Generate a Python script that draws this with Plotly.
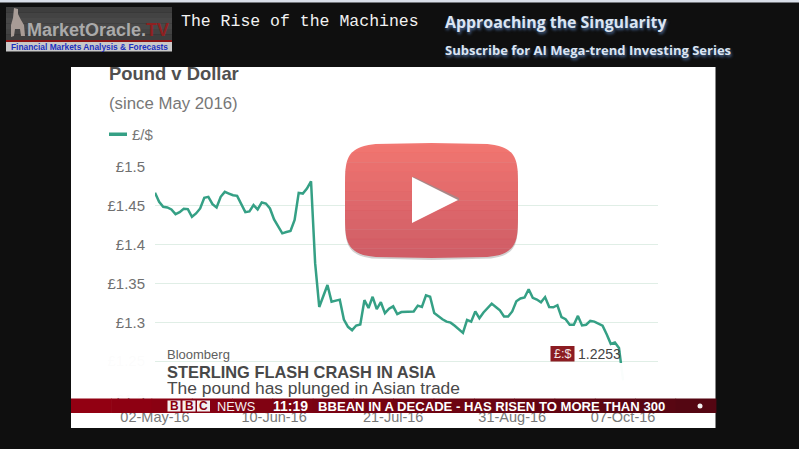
import pandas as pd
import plotly.graph_objects as go

W, H = 799, 449

# ---- chart data ----
START_DATE = "2016-05-02"
END_DATE = "2016-10-07"
SERIES_NAME = "£/$"
gbp_usd = [
    1.4667, 1.4551, 1.4487, 1.4479, 1.4453, 1.4393, 1.4419, 1.4462, 1.4458, 1.4359,
    1.4402, 1.4466, 1.4603, 1.4616, 1.4522, 1.4479, 1.4616, 1.4680, 1.4658, 1.4637,
    1.4628, 1.4530, 1.4419, 1.4428, 1.4509, 1.4453, 1.4543, 1.4530, 1.4466, 1.4325,
    1.4231, 1.4146, 1.4163, 1.4176, 1.4317, 1.4667, 1.4658, 1.4722, 1.4816, 1.3762,
    1.3198, 1.3335, 1.3480, 1.3266, 1.3283, 1.3292, 1.3036, 1.2942, 1.2899, 1.2959,
    1.2972, 1.3285, 1.3184, 1.3329, 1.3171, 1.3259, 1.3119, 1.3176, 1.3206, 1.3105,
    1.3132, 1.3136, 1.3132, 1.3140, 1.3215, 1.3198, 1.3347, 1.3329, 1.3119, 1.3075,
    1.3040, 1.3009, 1.2996, 1.2956, 1.2912, 1.2864, 1.3031, 1.3009, 1.3140, 1.3053,
    1.3127, 1.3184, 1.3241, 1.3198, 1.3154, 1.3075, 1.3075, 1.3140, 1.3272, 1.3307,
    1.3320, 1.3426, 1.3316, 1.3294, 1.3259, 1.3325, 1.3198, 1.3193, 1.3220, 1.3066,
    1.3040, 1.2969, 1.2969, 1.3083, 1.2960, 1.2969, 1.3018, 1.3009, 1.2978, 1.2956,
    1.2846, 1.2723, 1.2741, 1.2671, 1.2253,
]
x_tick_labels = ["02-May-16", "10-Jun-16", "21-Jul-16", "31-Aug-16", "07-Oct-16"]
y_tick_values = [1.2, 1.25, 1.3, 1.35, 1.4, 1.45, 1.5]
y_tick_labels = ["£1.2", "£1.25", "£1.3", "£1.35", "£1.4", "£1.45", "£1.5"]
dates = [d.strftime("%d-%b-%y") for d in pd.bdate_range(START_DATE, END_DATE)]

# ---- page decoration helpers ----
def px(x):
    return x / W

def py(y):
    return 1 - y / H

shapes = []
annotations = []

def rect(x0, y0, x1, y1, color, layer="above", opacity=1, line=None):
    shapes.append(dict(type="rect", xref="paper", yref="paper", x0=px(x0), x1=px(x1),
                       y0=py(y1), y1=py(y0), fillcolor=color, layer=layer, opacity=opacity,
                       line=dict(width=line[1], color=line[0]) if line else dict(width=0)))

def poly(points, color, opacity=1):
    d = "M" + " L".join(f"{px(a):.5f},{py(b):.5f}" for a, b in points) + " Z"
    shapes.append(dict(type="path", xref="paper", yref="paper", path=d, fillcolor=color,
                       layer="above", opacity=opacity, line=dict(width=0)))

def text(x, y, s, size, color, family="Liberation Sans", anchor="left", shadow=None):
    font = dict(size=size, color=color, family=family)
    if shadow:
        font["shadow"] = shadow
    annotations.append(dict(xref="paper", yref="paper", x=px(x), y=py(y), text=s, showarrow=False,
                            xanchor=anchor, yanchor="middle", font=font, borderpad=0, borderwidth=0))

def mix(c0, c1, t):
    return "rgb(" + ",".join(str(round(a + (b - a) * t)) for a, b in zip(c0, c1)) + ")"

# page frame
rect(0, 0, W, 2.4, "#d9dfe9", "below")
rect(71, 67, 715.5, 428, "#ffffff", "below")

# lower part of the panel, hiding the end of the chart
rect(90, 352, 155, 398, "#ffffff", opacity=0.975)
rect(155, 363, 660, 398, "#ffffff", opacity=0.975)

# logo
for i in range(6):
    rect(6, 7 + i * 5.5, 172, 7 + (i + 1) * 5.5 + 0.3, mix((62, 62, 62), (88, 88, 88), i / 5 if i < 3 else (5 - i) / 5))
rect(6, 40, 172, 42, "#8e1414")
rect(6, 42, 172, 51.5, "#c9c9c9")
figure = [(14, 8), (18, 9), (18, 14), (21, 20), (24, 25), (25, 36), (21, 36), (20, 29), (15, 29), (14, 36),
          (11, 37), (11, 25), (13, 18)]
poly(figure, "#a89c96")
text(27, 30, '<b>MarketOracle.<span style="color:#8e2020">TV</span></b>', 18, "#aaaaaa")
text(11, 46.7, "<b>Financial Markets Analysis &amp; Forecasts</b>", 8.4, "#2030c0")

# header
text(181, 21.5, "The Rise of the Machines", 16.5, "#f2f2f2", "Liberation Mono")
text(445, 22, "<b>Approaching the Singularity</b>", 15.9, "#dbe5f3", "Open Sans", shadow="1px 2px 3px #4a6a9a")
text(445, 50, "<b>Subscribe for AI Mega-trend Investing Series</b>", 13, "#dbe5f3", "Open Sans", shadow="1px 2px 3px #4a6a9a")

# chart headings and series key
text(109, 74, "<b>Pound v Dollar</b>", 18.4, "#505050")
text(109, 103, "(since May 2016)", 16.8, "#777777")
rect(109, 132.5, 127, 136, "#35a085")
text(132, 134, SERIES_NAME, 15, "#777777")

# lower third
text(167, 354, "Bloomberg", 13, "#606060")
text(167, 371.5, "<b>STERLING FLASH CRASH IN ASIA</b>", 16.4, "#484848")
text(167, 388, "The pound has plunged in Asian trade", 17.4, "#4a4a4a")
rect(550.5, 346, 574.5, 361.5, "#8c1c22")
text(562.5, 354, "£:$", 12.5, "#f2e4e4", anchor="center")
text(578, 354, "1.2253", 14, "#444444")

# news ticker
for i in range(16):
    t = i / 15
    rect(71 + i * 40.3, 398.5, 71 + (i + 1) * 40.3 + 0.6, 413, mix((146, 0, 18), (84, 6, 18), t))
for x0, letter in [(167.5, "B"), (182.5, "B"), (197, "C")]:
    rect(x0, 400.5, x0 + 13, 411.5, "#f4f0f0")
    text(x0 + 6.5, 406, f"<b>{letter}</b>", 12, "#8a0010", anchor="center")
text(216.5, 406, "NEWS", 12.8, "#f5f0f0")
text(273, 406, "<b>11:19</b>", 14, "#ffffff")
text(318, 406, "<b>BBEAN IN A DECADE - HAS RISEN TO MORE THAN 300</b>", 13.1, "#ffffff")
shapes.append(dict(type="circle", xref="paper", yref="paper", x0=px(697.5), x1=px(702.5), y0=py(408.5), y1=py(403.5),
                   fillcolor="#f2f2f2", line=dict(width=0), layer="above"))

# play button
CX, CY, A, B, N = 431.5, 200.5, 86.5, 57.5, 5.5

def half_width(y):
    u = min(abs((y - CY) / B), 1.0)
    return A * (1 - u ** N) ** (1 / N)

def band(y0, y1, dy=0.0, steps=10):
    ys = [y0 + (y1 - y0) * k / steps for k in range(steps + 1)]
    right = [(CX + half_width(y), y + dy) for y in ys]
    left = [(CX - half_width(y), y + dy) for y in reversed(ys)]
    return right + left

poly(band(CY - B, CY + B, dy=2.0, steps=80), "#777777", 0.35)
SLICES = 12
for i in range(SLICES):
    y0 = CY - B + 2 * B * i / SLICES
    y1 = CY - B + 2 * B * (i + 1) / SLICES + (0.3 if i < SLICES - 1 else 0)
    poly(band(y0, y1), mix((241, 110, 105), (207, 85, 95), i / (SLICES - 1)), 0.94)
poly([(413, 176.5), (459, 198), (459, 201), (413, 178)], "#9a8f8f", 0.8)
poly([(412, 177), (458, 200), (412, 223)], "#ffffff")

# ---- figure ----
fig = go.Figure(go.Scatter(x=dates, y=gbp_usd, mode="lines", name=SERIES_NAME,
                           line=dict(color="#35a085", width=2.5)))
fig.update_layout(
    width=W, height=H, margin=dict(l=0, r=0, t=0, b=0, pad=0), autosize=False,
    paper_bgcolor="#0f0f0f", plot_bgcolor="rgba(0,0,0,0)",
    shapes=shapes, annotations=annotations, showlegend=False,
    xaxis=dict(domain=[px(155), px(658)], type="category", categoryorder="array", categoryarray=dates,
               range=[0, 122.5], tickmode="array", tickvals=x_tick_labels, ticktext=x_tick_labels, automargin=False,
               showgrid=False, zeroline=False, showline=False, ticks="outside", ticklen=4, tickcolor="rgba(0,0,0,0)",
               tickfont=dict(size=14.5, color="#777777", family="Liberation Sans")),
    yaxis=dict(domain=[py(400), py(167)], range=[1.2, 1.5], tickmode="array", tickvals=y_tick_values, automargin=False,
               ticktext=y_tick_labels, showgrid=True, gridcolor="#e0eee6", gridwidth=1.2, zeroline=False,
               showline=False, ticks="outside", ticklen=6, tickcolor="rgba(0,0,0,0)",
               tickfont=dict(size=15, color="#707070", family="Liberation Sans")),
)
fig.write_html("out.html", config=dict(displayModeBar=False),
               post_script="document.body.style.margin='0';document.body.style.overflow='hidden';")
